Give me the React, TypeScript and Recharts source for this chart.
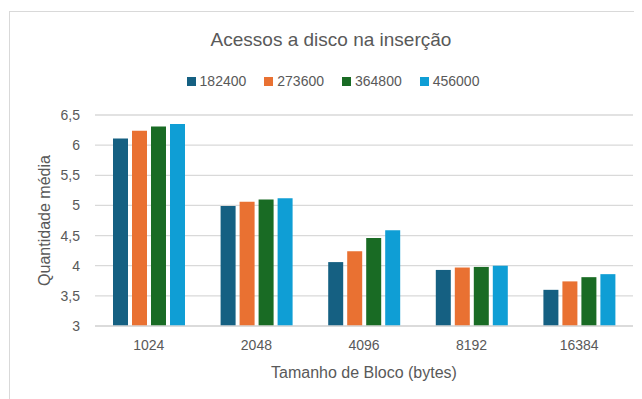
import { BarChart, Bar, XAxis, YAxis, CartesianGrid, Label } from 'recharts';

const categories = ['1024', '2048', '4096', '8192', '16384'];
const seriesNames = ['182400', '273600', '364800', '456000'];
const s182400 = [6.11, 4.99, 4.06, 3.93, 3.6];
const s273600 = [6.24, 5.06, 4.24, 3.97, 3.74];
const s364800 = [6.31, 5.1, 4.46, 3.98, 3.81];
const s456000 = [6.35, 5.12, 4.59, 4.0, 3.86];
const yTicks = [3, 3.5, 4, 4.5, 5, 5.5, 6, 6.5];

const colors = ['#156082', '#E97132', '#196B24', '#0F9ED5'];
const seriesValues = [s182400, s273600, s364800, s456000];

const data = categories.map((name, i) => ({
  name,
  '182400': s182400[i],
  '273600': s273600[i],
  '364800': s364800[i],
  '456000': s456000[i],
}));

const FONT = '"Liberation Sans", Arial, sans-serif';
const TEXT = '#595959';

const YTitle = ({ viewBox }: any) => {
  const cy = viewBox.y + viewBox.height / 2;
  const cx = viewBox.x + 36.5;
  return (
    <text
      x={cx}
      y={cy}
      transform={`rotate(-90 ${cx} ${cy})`}
      textAnchor="middle"
      dominantBaseline="central"
      fill={TEXT}
      fontSize={16}
      fontFamily={FONT}
    >
      Quantidade média
    </text>
  );
};

export default function App() {
  return (
    <div
      style={{
        position: 'relative',
        width: 634,
        height: 391,
        overflow: 'hidden',
        fontFamily: FONT,
        background: '#fff',
      }}
    >
      <div
        style={{
          position: 'absolute',
          left: 1,
          top: 3,
          width: 700,
          height: 450,
          border: '1px solid #d9d9d9',
        }}
      />
      <div
        style={{
          position: 'absolute',
          left: 0,
          width: 646,
          top: 22,
          textAlign: 'center',
          fontSize: 19,
          lineHeight: '19px',
          color: TEXT,
        }}
      >
        Acessos a disco na inserção
      </div>
      <div
        style={{
          position: 'absolute',
          left: 0,
          width: 650,
          top: 66,
          display: 'flex',
          justifyContent: 'center',
          fontSize: 14,
          lineHeight: '14px',
          color: TEXT,
        }}
      >
        {seriesNames.map((n, i) => (
          <div
            key={n}
            style={{
              display: 'flex',
              alignItems: 'center',
              marginRight: i < seriesNames.length - 1 ? 18 : 0,
            }}
          >
            <span
              style={{
                display: 'inline-block',
                width: 9,
                height: 9,
                background: colors[i],
                marginRight: 4,
              }}
            />
            <span>{n}</span>
          </div>
        ))}
      </div>
      <div style={{ position: 'absolute', left: 0, top: 0 }}>
        <BarChart
          width={634}
          height={391}
          data={data}
          margin={{ top: 107, right: 9, left: 0, bottom: 43 }}
          barGap={4}
          barSize={15}
        >
          <CartesianGrid vertical={false} stroke="#d9d9d9" strokeWidth={1.3} />
          <XAxis
            dataKey="name"
            height={30}
            axisLine={{ stroke: '#d9d9d9', strokeWidth: 1.3 }}
            tickLine={false}
            tickSize={0}
            tickMargin={14}
            tick={{ fontSize: 14, fill: TEXT, fontFamily: FONT }}
          >
            <Label
              value="Tamanho de Bloco (bytes)"
              position="bottom"
              offset={11}
              fill={TEXT}
              fontSize={16}
              fontFamily={FONT}
            />
          </XAxis>
          <YAxis
            width={87}
            domain={[3, 6.5]}
            ticks={yTicks}
            axisLine={false}
            tickLine={false}
            tickSize={0}
            tickMargin={15}
            tickFormatter={(v: number) => String(v).replace('.', ',')}
            tick={{ fontSize: 14, fill: TEXT, fontFamily: FONT }}
          >
            <Label content={YTitle} />
          </YAxis>
          {seriesNames.map((n, i) => (
            <Bar
              key={n}
              dataKey={n}
              fill={colors[i]}
              isAnimationActive={false}
            />
          ))}
        </BarChart>
      </div>
    </div>
  );
}

void seriesValues;
